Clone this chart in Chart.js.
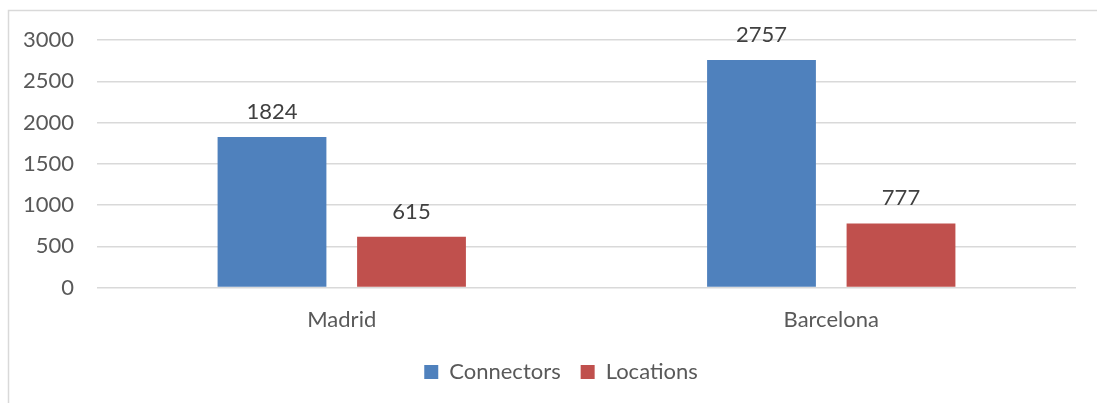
<!DOCTYPE html>
<html>
<head>
<meta charset="utf-8">
<script src="https://cdn.jsdelivr.net/npm/chart.js@4"></script>
<style>
  html, body { margin: 0; padding: 0; background: #ffffff; }
  #wrap { position: relative; width: 1097px; height: 403px; }
</style>
</head>
<body>
<div id="wrap"><canvas id="chart" width="1097" height="403"></canvas></div>
<script>
const categories = ['Madrid', 'Barcelona'];
const connectors = [1824, 2757];
const locations = [615, 777];
const seriesNames = ['Connectors', 'Locations'];
const yTicks = [0, 500, 1000, 1500, 2000, 2500, 3000];

const FONT = 'Lato, "Open Sans", sans-serif';
const FONT_SIZE = 22;
const GRID = '#d9d9d9';

// Outer frame of the chart object
const framePlugin = {
  id: 'frame',
  beforeDraw(chart) {
    const ctx = chart.ctx;
    ctx.save();
    ctx.fillStyle = '#ffffff';
    ctx.fillRect(0, 0, chart.width, chart.height);
    ctx.strokeStyle = GRID;
    ctx.lineWidth = 1.5;
    ctx.strokeRect(8.5, 10.5, chart.width + 20, chart.height + 20);
    ctx.restore();
  }
};

// The legend is centred under the plot rather than under the whole canvas
const legendOffset = {
  id: 'legendOffset',
  afterLayout(chart) {
    if (chart.legend) chart.legend.left += 46;
  }
};

// Value labels above each bar
const valueLabels = {
  id: 'valueLabels',
  afterDatasetsDraw(chart) {
    const ctx = chart.ctx;
    ctx.save();
    ctx.font = FONT_SIZE + 'px ' + FONT;
    ctx.fillStyle = '#404040';
    ctx.textAlign = 'center';
    ctx.textBaseline = 'alphabetic';
    chart.data.datasets.forEach((ds, i) => {
      chart.getDatasetMeta(i).data.forEach((bar, j) => {
        ctx.fillText(String(ds.data[j]), bar.x, bar.y - 18);
      });
    });
    ctx.restore();
  }
};

new Chart(document.getElementById('chart'), {
  type: 'bar',
  data: {
    labels: categories,
    datasets: [
      { label: seriesNames[0], data: connectors, backgroundColor: '#4F81BD' },
      { label: seriesNames[1], data: locations, backgroundColor: '#C0504D' }
    ]
  },
  options: {
    responsive: false,
    animation: false,
    devicePixelRatio: 1,
    categoryPercentage: 0.57,
    barPercentage: 0.78,
    layout: { padding: { top: 40, right: 21, left: 0, bottom: 10 } },
    plugins: {
      tooltip: { enabled: false },
      legend: {
        position: 'bottom',
        labels: {
          font: { family: FONT, size: FONT_SIZE },
          color: '#595959',
          boxWidth: 14,
          boxHeight: 14,
          padding: 20
        }
      }
    },
    scales: {
      x: {
        grid: { display: false, drawTicks: false },
        border: { display: false },
        ticks: { font: { family: FONT, size: FONT_SIZE }, color: '#595959', padding: 19 },
        afterFit(scale) { scale.height = 53.5; }
      },
      y: {
        min: 0,
        max: 3000,
        afterBuildTicks(scale) { scale.ticks = yTicks.map(v => ({ value: v })); },
        grid: { color: GRID, lineWidth: 1.5, drawTicks: false },
        border: { display: false },
        ticks: {
          font: { family: FONT, size: FONT_SIZE },
          color: '#595959',
          padding: 23,
          callback: (v) => String(v)
        },
        afterFit(scale) { scale.width = 97; }
      }
    }
  },
  plugins: [framePlugin, legendOffset, valueLabels]
});
</script>
</body>
</html>
